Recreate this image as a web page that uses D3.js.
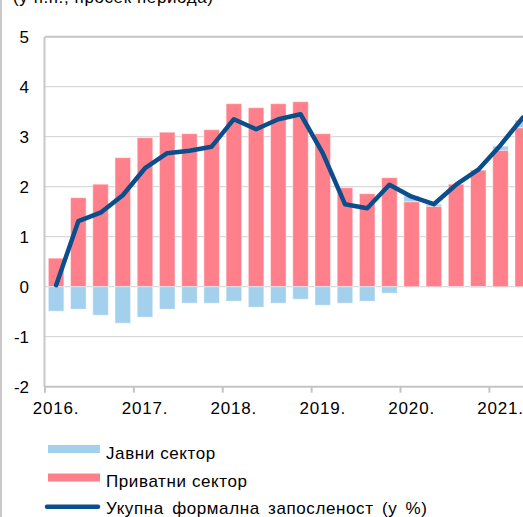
<!DOCTYPE html>
<html>
<head>
<meta charset="utf-8">
<script src="https://cdn.jsdelivr.net/npm/d3@7/dist/d3.min.js"></script>
<style>
  html, body { margin: 0; padding: 0; background: #fff; }
  svg { display: block; }
  text { font-family: "Liberation Sans", Arial, sans-serif; fill: #000; }
</style>
</head>
<body>
<script>
// Quarterly contributions to formal employment growth, 2016–2021
const quarters = ["2016Q1","2016Q2","2016Q3","2016Q4","2017Q1","2017Q2","2017Q3","2017Q4",
  "2018Q1","2018Q2","2018Q3","2018Q4","2019Q1","2019Q2","2019Q3","2019Q4",
  "2020Q1","2020Q2","2020Q3","2020Q4","2021Q1","2021Q2"];
const privateSector = [0.57, 1.78, 2.05, 2.58, 2.98, 3.09, 3.06, 3.14,
  3.66, 3.58, 3.66, 3.70, 3.06, 1.98, 1.86, 2.18,
  1.70, 1.61, 2.05, 2.33, 2.73, 3.18];
const publicSector = [-0.49, -0.45, -0.57, -0.73, -0.61, -0.45, -0.33, -0.33,
  -0.29, -0.41, -0.33, -0.25, -0.37, -0.33, -0.29, -0.13,
  0.12, 0.04, -0.02, -0.02, 0.08, 0.15];
const totalEmployment = [0.03, 1.31, 1.48, 1.83, 2.37, 2.67, 2.72, 2.80,
  3.35, 3.15, 3.35, 3.45, 2.67, 1.65, 1.57, 2.04,
  1.80, 1.65, 2.04, 2.34, 2.83, 3.38];
const yearLabels = ["2016.", "2017.", "2018.", "2019.", "2020.", "2021."];
const yTicks = [-2, -1, 0, 1, 2, 3, 4, 5];
const legendLabels = ["Јавни сектор", "Приватни сектор", "Укупна формална запосленост (у %)"];
const unitLabel = "(у п.п., просек периода)";

const W = 523, H = 517;
const colors = { pub: "#a3d0ec", priv: "#ff808b", line: "#0a4f8b" };

const svg = d3.select("body").append("svg").attr("width", W).attr("height", H);

// outer frame edge on the left
svg.append("line").attr("x1", 1).attr("x2", 1).attr("y1", 0).attr("y2", H)
  .attr("stroke", "#c8c8c8").attr("stroke-width", 2);

// unit note, running off the top edge
svg.append("text").attr("x", 13).attr("y", 3).style("font-size", "17px")
  .style("letter-spacing", "0.6px").text(unitLabel);

const plotLeft = 45, step = 22.22;
const x = d3.scaleBand().domain(quarters)
  .range([plotLeft, plotLeft + quarters.length * step])
  .paddingInner(0.3).paddingOuter(0.15);
const y = d3.scaleLinear().domain([-2, 5]).range([386.7, 36.7]);
const plotRight = plotLeft + quarters.length * step;

// horizontal gridlines
svg.append("g").selectAll("line").data(yTicks.filter(v => v > -2)).join("line")
  .attr("x1", plotLeft).attr("x2", plotRight)
  .attr("y1", d => y(d)).attr("y2", d => y(d))
  .attr("stroke", d => d === 5 ? "#c4c4c4" : "#d9d9d9")
  .attr("stroke-width", d => d === 5 ? 2 : 1.3);

// stacked bars: private positive from zero, public stacked above/below
const rows = quarters.map((q, i) => ({ q, priv: privateSector[i], pub: publicSector[i] }));
const stack = d3.stack().keys(["priv", "pub"]).offset(d3.stackOffsetDiverging);
const series = stack(rows);

svg.append("g").selectAll("g").data(series).join("g")
  .attr("fill", d => colors[d.key])
  .selectAll("rect").data(d => d).join("rect")
  .attr("x", d => x(d.data.q))
  .attr("width", x.bandwidth())
  .attr("y", d => y(Math.max(d[0], d[1])))
  .attr("height", d => Math.abs(y(d[0]) - y(d[1])))
  .attr("stroke", "rgba(255,255,255,0.45)").attr("stroke-width", 1);

// left axis
svg.append("line").attr("x1", plotLeft - 0.5).attr("x2", plotLeft - 0.5)
  .attr("y1", y(5)).attr("y2", y(-2))
  .attr("stroke", "#c8c8c8").attr("stroke-width", 2);

const yAxis = d3.axisLeft(y).tickValues(yTicks).tickSize(0).tickPadding(0)
  .tickFormat(d => String(d));
const gy = svg.append("g").attr("transform", "translate(29,0)").call(yAxis);
gy.select(".domain").remove();
gy.selectAll("text").style("font-size", "17px").style("font-family", "Liberation Sans, Arial, sans-serif")
  .attr("fill", "#000");

// bottom axis with year boundaries
const xb = svg.append("g");
xb.append("line").attr("x1", plotLeft - 1).attr("x2", plotRight)
  .attr("y1", y(-2)).attr("y2", y(-2))
  .attr("stroke", "#c4c4c4").attr("stroke-width", 2);
const boundaries = d3.range(0, quarters.length + 1, 4);
xb.selectAll("line.tick").data(boundaries).join("line").attr("class", "tick")
  .attr("x1", d => plotLeft + d * step).attr("x2", d => plotLeft + d * step)
  .attr("y1", y(-2)).attr("y2", y(-2) + 6)
  .attr("stroke", "#c4c4c4").attr("stroke-width", 2);

const firstQuarters = quarters.filter(q => q.endsWith("Q1"));
const xAxis = d3.axisBottom(x).tickValues(firstQuarters).tickSize(0).tickPadding(0)
  .tickFormat((d, i) => yearLabels[i]);
const gx = svg.append("g").attr("transform", `translate(0,${y(-2) + 15})`).call(xAxis);
gx.select(".domain").remove();
gx.selectAll("text").style("font-size", "17px").style("letter-spacing", "0.8px")
  .style("font-family", "Liberation Sans, Arial, sans-serif").attr("fill", "#000");

// total employment line
const line = d3.line().x((d, i) => x(quarters[i]) + x.bandwidth() / 2).y(d => y(d));
svg.append("path").datum(totalEmployment)
  .attr("d", line).attr("fill", "none")
  .attr("stroke", colors.line).attr("stroke-width", 4.5)
  .attr("stroke-linejoin", "round").attr("stroke-linecap", "round");

// legend
const lg = svg.append("g");
lg.append("rect").attr("x", 48).attr("y", 445).attr("width", 52).attr("height", 8).attr("fill", colors.pub);
lg.append("rect").attr("x", 48).attr("y", 473.5).attr("width", 52).attr("height", 8).attr("fill", colors.priv);
lg.append("line").attr("x1", 47).attr("x2", 98).attr("y1", 506.7).attr("y2", 506.7)
  .attr("stroke", colors.line).attr("stroke-width", 4.5).attr("stroke-linecap", "round");
const legendY = [458.5, 487, 514];
lg.selectAll("text").data(legendLabels).join("text")
  .attr("x", 106).attr("y", (d, i) => legendY[i])
  .style("font-size", "17px").style("letter-spacing", "0.6px")
  .style("word-spacing", (d, i) => i === 2 ? "3px" : "0px")
  .text(d => d);
</script>
</body>
</html>
